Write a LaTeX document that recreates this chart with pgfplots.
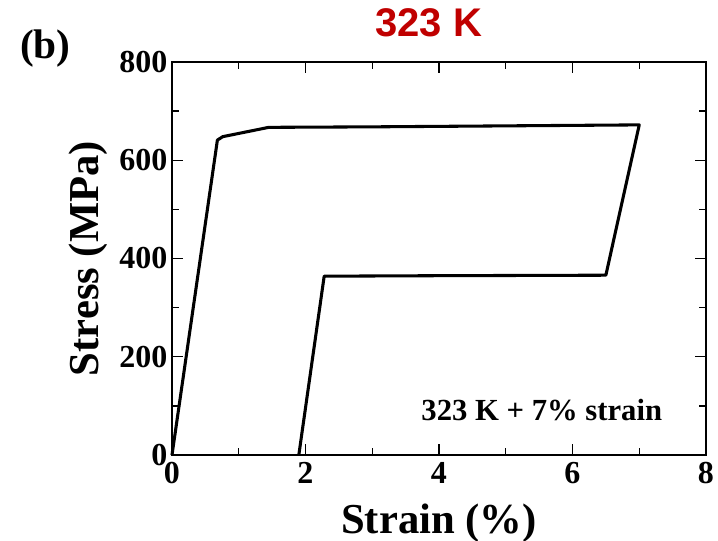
\documentclass[border=0pt]{standalone}
\usepackage{pgfplots}
\pgfplotsset{compat=1.18}
\usepackage{fontspec}
\setmainfont{Liberation Serif}
\newfontfamily\sansb{Liberation Sans}
\definecolor{titlered}{RGB}{192,0,0}
\begin{document}
\begin{tikzpicture}
\useasboundingbox (-129pt,-64.5pt) rectangle (409.5pt,341.25pt);
\begin{axis}[
  scale only axis,
  width=400.5pt, height=294.75pt,
  xmin=0, xmax=8, ymin=0, ymax=800,
  xtick={0,2,4,6,8}, ytick={0,200,400,600,800},
  minor xtick={1,3,5,7}, minor ytick={100,300,500,700},
  tick align=inside,
  major tick length=8pt, minor tick length=5pt,
  axis line style={line width=1.3pt},
  every tick/.style={line width=1.1pt, black},
  /pgf/number format/assume math mode=true,
  ticklabel style={font=\fontsize{24}{26}\selectfont\bfseries},
  xticklabel style={yshift=-2pt},
  xlabel={Strain (\%)}, ylabel={Stress (MPa)},
  label style={font=\fontsize{32}{34}\selectfont\bfseries},
  xlabel style={yshift=-8pt},
  ylabel style={yshift=2pt},
  clip=false,
]
\addplot[black, line width=2.3pt, line join=round] coordinates {
(0,0) (0.68,641) (0.76,648) (1.45,667) (3,668) (5,670) (7.0,672) (6.5,366) (4,365) (2.28,364) (1.9,0)
};
\node[anchor=center, font=\fontsize{23}{25}\selectfont\bfseries] at (axis cs:5.54,92) {323 K + 7\% strain};
\node[anchor=center, text=titlered, font=\sansb\fontsize{30}{32}\selectfont\bfseries] at (rel axis cs:0.481,1.101) {323 K};
\node[anchor=center, font=\fontsize{31}{33}\selectfont\bfseries] at (-95pt,305pt) {(b)};
\end{axis}
\end{tikzpicture}
\end{document}
